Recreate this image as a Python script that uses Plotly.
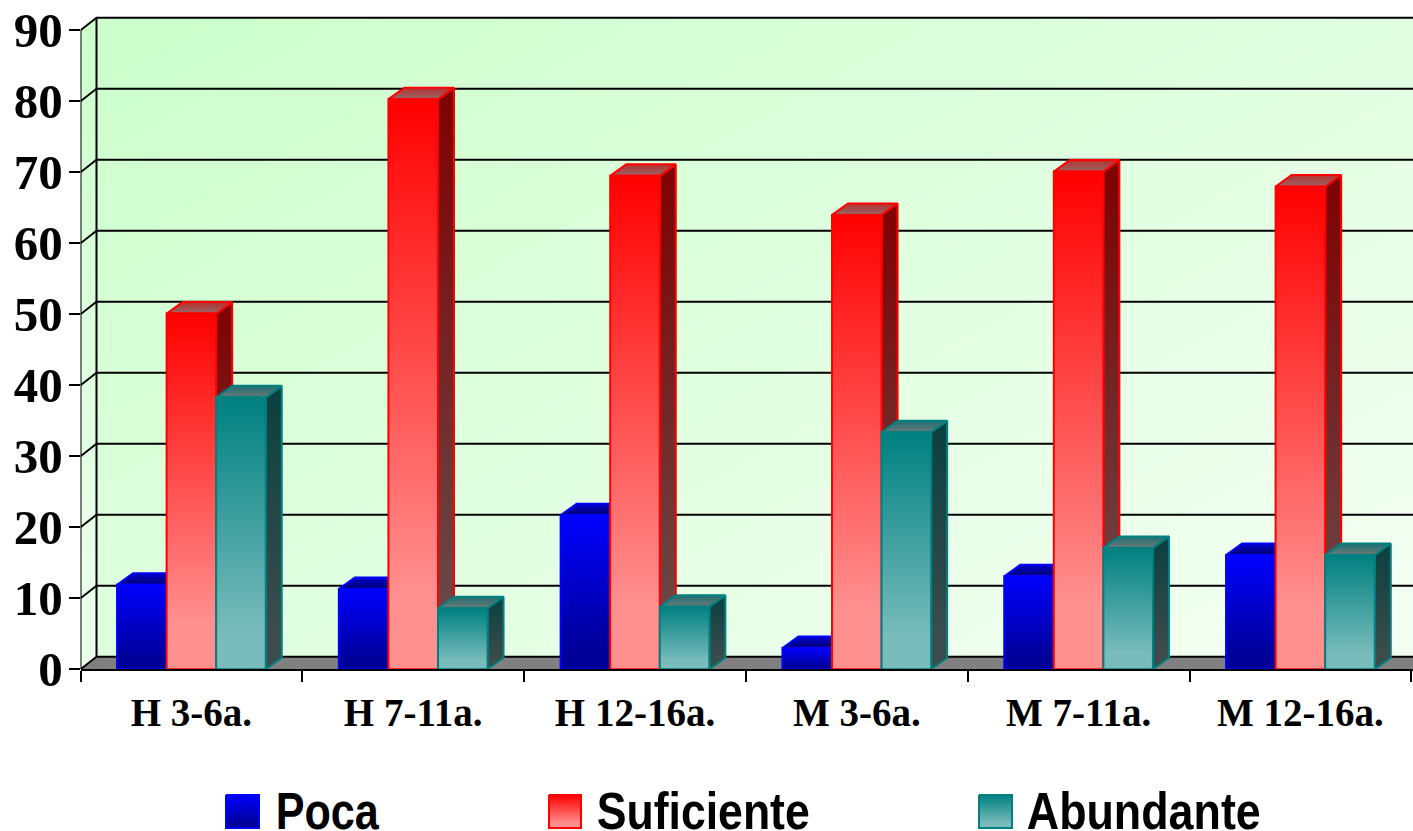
import numpy as np
import plotly.graph_objects as go

# Survey results by group
categories = ["H 3-6a.", "H 7-11a.", "H 12-16a.", "M 3-6a.", "M 7-11a.", "M 12-16a."]
poca = [11.9, 11.3, 21.7, 3.0, 13.1, 16.1]
suficiente = [50.1, 80.3, 69.5, 64.0, 70.1, 68.0]
abundante = [38.3, 8.6, 8.8, 33.4, 17.1, 16.1]
y_ticks = list(range(0, 100, 10))

# Faux-3D styling per series: outline, front, side and top gradients (top colour first)
SERIES = [
    dict(name="Poca", values=poca, line="#0000ff",
         front=("#0000ff", "#000099"), side=("#000080", "#000050"), top=("#0000cc", "#000080")),
    dict(name="Suficiente", values=suficiente, line="#ff0000",
         front=("#ff0000", "#ff9090"), side=("#800000", "#6b4646"), top=("#b83030", "#9a6060")),
    dict(name="Abundante", values=abundante, line="#008080",
         front=("#008080", "#7abcbc"), side=("#0a4040", "#3c4c4c"), top=("#207070", "#607878")),
]

# Plot geometry in page pixels
W, H = 1413, 831
X0_PX, Y0_PX, TOP_PX = 80.5, 669.3, 16.0
CAT_PX, UNIT_PX = 221.8, 7.1
BAR_W = 0.2235
DX, DY = 16.0 / CAT_PX, 11.5 / UNIT_PX          # bar depth in data units
WALL_DX, WALL_DY = 16.0 / CAT_PX, 12.6 / UNIT_PX  # wall depth in data units
X_MIN, X_MAX = -0.5, -0.5 + (W - X0_PX) / CAT_PX
Y_MAX = (Y0_PX - TOP_PX) / UNIT_PX


def grad(colors):
    # colorscale runs bottom to top along the shape's bounding box; the light end plateaus
    return dict(type="vertical", colorscale=[[0, colors[1]], [0.13, colors[1]], [1, colors[0]]])


def poly(xs, ys, colors, line=None, width=2, xaxis="x", yaxis="y"):
    return go.Scatter(
        x=xs, y=ys, mode="lines", fill="toself", fillgradient=grad(colors),
        line=dict(color=line or "rgba(0,0,0,0)", width=width),
        hoverinfo="skip", showlegend=False, xaxis=xaxis, yaxis=yaxis,
    )


def rule(xs, ys, color="black", width=2):
    return go.Scatter(x=xs, y=ys, mode="lines", line=dict(color=color, width=width),
                      hoverinfo="skip", showlegend=False, cliponaxis=False)


fig = go.Figure()

# Back wall with a diagonal pale-green wash
nx, ny = 48, 24
u, v = np.meshgrid(np.linspace(0, 1, nx), np.linspace(1, 0, ny))
fig.add_trace(go.Heatmap(
    x=np.linspace(X_MIN + WALL_DX, X_MAX, nx + 1),
    y=np.linspace(WALL_DY, 90 + WALL_DY, ny + 1),
    z=0.54 * u + 0.46 * v, zmin=0, zmax=1, zsmooth="best", showscale=False, hoverinfo="skip",
    colorscale=[[0, "#ccffcc"], [1, "#f4fff4"]],
))

# Left wall and floor
fig.add_trace(poly([X_MIN, X_MIN + WALL_DX, X_MIN + WALL_DX, X_MIN, X_MIN],
                   [0, WALL_DY, 90 + WALL_DY, 90, 0], ("#ccffcc", "#eaffea")))
fig.add_trace(go.Scatter(x=[X_MIN, X_MIN + WALL_DX, X_MAX, X_MAX, X_MIN],
                         y=[0, WALL_DY, WALL_DY, 0, 0], mode="lines", fill="toself",
                         fillcolor="#808080", line=dict(width=0), hoverinfo="skip", showlegend=False))

# Gridlines run along the back wall and step down the left wall to each tick
for t in y_ticks:
    fig.add_trace(rule([X_MIN, X_MIN + WALL_DX, X_MAX], [t, t + WALL_DY, t + WALL_DY]))
fig.add_trace(rule([X_MIN + WALL_DX] * 2, [WALL_DY, 90 + WALL_DY]))
fig.add_trace(rule([X_MIN, X_MIN], [0, 90]))

# Bars: side and top first, front face over them
for i, cat in enumerate(categories):
    for s, series in enumerate(SERIES):
        val = series["values"][i]
        left = i + (s - 1.5) * BAR_W
        right = left + BAR_W
        fig.add_trace(poly([right, right + DX, right + DX, right, right],
                           [0, DY, val + DY, val, 0], series["side"], series["line"]))
        fig.add_trace(poly([left, left + DX, right + DX, right, left],
                           [val, val + DY, val + DY, val, val], series["top"], series["line"]))
        fig.add_trace(poly([left, right, right, left, left],
                           [0, 0, val, val, 0], series["front"], series["line"]))

# Legend keys and labels on a page-pixel overlay: key left, key right, label left, label width
LEGEND_KEYS = [(226, 259, 276, 103), (549, 581, 597, 213), (979, 1012, 1027, 234)]
annotations = []
for series, (x_a, x_b, x_text, text_w) in zip(SERIES, LEGEND_KEYS):
    fig.add_trace(poly([x_a, x_b, x_b, x_a, x_a], [795, 795, 828, 828, 795], series["front"],
                       series["line"], xaxis="x2", yaxis="y2"))
    annotations.append(dict(
        text=series["name"], x=x_text + text_w / 2, y=811, xref="x2", yref="y2",
        xanchor="center", yanchor="middle", showarrow=False,
        font=dict(family="Liberation Sans", size=52, color="black", weight="bold"),
    ))

fig.update_layout(
    width=W, height=H, margin=dict(l=0, r=0, t=0, b=0), autosize=False,
    paper_bgcolor="white", plot_bgcolor="rgba(0,0,0,0)", showlegend=False,
    annotations=annotations,
    xaxis=dict(
        domain=[X0_PX / W, 1], range=[X_MIN, X_MAX], showgrid=False, zeroline=False, automargin=False,
        showline=True, linecolor="black", linewidth=2,
        tickmode="array", tickvals=list(range(len(categories))), ticktext=categories,
        ticks="outside", ticklen=8, tickcolor="rgba(0,0,0,0)",
        tickfont=dict(family="Liberation Serif", size=39, color="black", weight="bold"),
        minor=dict(ticks="outside", ticklen=11, tickwidth=2, tickcolor="black", tick0=-0.5, dtick=1, showgrid=False),
    ),
    yaxis=dict(
        domain=[(H - Y0_PX) / H, (H - TOP_PX) / H], range=[0, Y_MAX], showgrid=False, zeroline=False,
        automargin=False, showline=False, tickmode="array", tickvals=y_ticks,
        ticks="outside", ticklen=11, tickwidth=2, tickcolor="black", ticklabelstandoff=-4,
        tickfont=dict(family="Liberation Serif", size=49, color="black", weight="bold"),
    ),
    xaxis2=dict(domain=[0, 1], range=[0, W], visible=False, anchor="y2", automargin=False),
    yaxis2=dict(domain=[0, 1], range=[H, 0], visible=False, anchor="x2", automargin=False),
)

# Condense the legend labels to their set widths once the annotations exist
label_widths = [k[3] for k in LEGEND_KEYS]
post_script = """
var gd = document.getElementById('{plot_id}');
var widths = %s;
function condense() {
  gd.querySelectorAll('.annotation-text').forEach(function (t, i) {
    t.setAttribute('textLength', widths[i]);
    t.setAttribute('lengthAdjust', 'spacingAndGlyphs');
  });
}
condense();
gd.on('plotly_afterplot', condense);
setTimeout(condense, 100);
""" % label_widths

fig.write_html("out.html", config=dict(displayModeBar=False), post_script=post_script)
